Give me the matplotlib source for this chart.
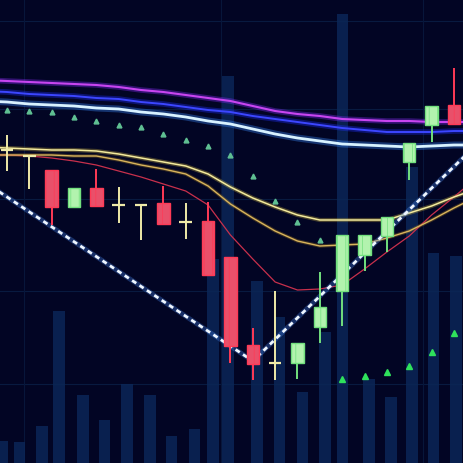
import numpy as np
import matplotlib
matplotlib.use("Agg")
import matplotlib.pyplot as plt

# candles (index 0..20)
opens  = [31.3, 30.7, 29.3, 25.6, 27.5, 25.8, 25.8, 26.0, 24.1, 24.2, 20.6,
          11.8, 10.0, 10.0, 13.6, 17.2, 20.8, 22.7, 30.1, 33.8, 35.8]
highs  = [32.8, 30.7, 29.3, 27.5, 29.4, 27.6, 25.8, 27.7, 26.0, 26.1, 20.6,
          13.5, 17.2, 12.0, 19.1, 22.8, 22.8, 24.6, 32.0, 35.7, 39.5]
lows   = [29.2, 27.4, 23.8, 25.6, 25.7, 24.0, 22.3, 23.9, 22.4, 18.8, 10.0,
          8.3, 8.3, 8.4, 12.0, 13.7, 19.2, 21.1, 28.3, 32.1, 33.9]
closes = [31.3, 30.7, 25.6, 27.5, 25.7, 25.8, 25.8, 23.9, 24.1, 18.8, 11.7,
          9.9, 10.0, 12.0, 15.6, 22.8, 22.8, 24.6, 32.0, 35.7, 33.9]

# volume bars (behind)
vol_x = [-0.22, 0.58, 1.57, 2.33, 3.4, 4.38, 5.37, 6.4, 7.38, 8.41, 9.22,
         9.89, 11.19, 12.21, 13.24, 14.23, 15.03, 16.2, 17.18, 18.12, 19.1, 20.09]
volume = [2.2, 2.1, 3.7, 15.2, 6.8, 4.3, 7.9, 6.8, 2.7, 3.4, 20.4,
          38.7, 18.2, 14.6, 7.1, 13.1, 44.9, 8.4, 6.6, 29.6, 21.0, 20.7]

# moving averages, sampled from index -1 to 21
ma_x = np.arange(-1, 22)
ma_magenta = [38.3, 38.2, 38.1, 38.0, 37.9, 37.8, 37.6, 37.3, 37.1, 36.8, 36.5, 36.2,
              35.7, 35.2, 34.9, 34.7, 34.4, 34.3, 34.2, 34.2, 34.1, 34.1, 34.1]
ma_blue = [37.2, 37.1, 36.9, 36.8, 36.7, 36.5, 36.4, 36.1, 35.9, 35.6, 35.3, 35.1,
           34.7, 34.4, 34.1, 33.8, 33.5, 33.3, 33.1, 33.1, 33.1, 33.2, 33.2]
ma_white = [36.2, 36.1, 35.9, 35.8, 35.7, 35.5, 35.4, 35.1, 34.9, 34.6, 34.2, 33.9,
            33.4, 32.9, 32.5, 32.2, 31.9, 31.8, 31.7, 31.6, 31.7, 31.8, 31.8]
ma_yellow = [31.6, 31.5, 31.4, 31.3, 31.3, 31.2, 30.9, 30.5, 30.1, 29.7, 28.9, 27.6,
             26.5, 25.6, 24.8, 24.3, 24.3, 24.3, 24.3, 25.0, 25.7, 26.6, 27.4]
ma_orange = [30.8, 30.8, 30.8, 30.8, 30.7, 30.7, 30.3, 29.8, 29.4, 28.9, 27.7, 25.9,
             24.5, 23.2, 22.2, 21.7, 21.8, 21.9, 22.5, 23.2, 24.3, 25.5, 26.6]
ma_red = [30.8, 30.8, 30.7, 30.5, 30.2, 29.8, 29.2, 28.6, 27.9, 27.2, 25.8, 22.8,
          20.4, 18.1, 17.3, 17.4, 17.8, 19.4, 21.1, 22.7, 24.8, 26.6, 28.5]

# parabolic SAR dots
sar = [35.3, 35.2, 35.1, 34.6, 34.2, 33.8, 33.6, 32.9, 32.3, 31.7, 30.8,
       28.7, 26.2, 24.1, 22.3, 8.4, 8.7, 9.1, 9.7, 11.1, 13.0]

# V-shaped trend line
trend_x = [-1, 11, 21]
trend_y = [28.1, 10.2, 31.8]

plt.rcParams["hatch.linewidth"] = 0.5

bg = "#020524"
fig = plt.figure(figsize=(4.64, 4.64), dpi=100, facecolor=bg)
ax = fig.add_axes([0, 0, 1, 1], facecolor=bg)
ax.set_xlim(-0.31, 20.45)
ax.set_ylim(0, 46.4)
ax.axis("off")

# faint grid
for gy in [44.2, 35.4, 26.4, 17.2, 7.9]:
    ax.axhline(gy, color="#081a40", lw=0.8, zorder=0)
for gx in [0.76, 9.6, 18.6]:
    ax.axvline(gx, color="#07163a", lw=0.8, zorder=0)

ax.bar(vol_x, volume, width=0.5, color="#0b2657", alpha=0.85, zorder=1)


def glow(y, core, halo, lw, glow_lw, z):
    ax.plot(ma_x, y, color=halo, lw=glow_lw, alpha=0.35, zorder=z,
            solid_capstyle="round")
    ax.plot(ma_x, y, color=core, lw=lw, zorder=z + 0.1)


glow(ma_magenta, "#c845f0", "#8a2cff", 1.5, 4, 2)
glow(ma_blue, "#3c46ff", "#2030ff", 1.4, 4, 2)
glow(ma_white, "#d8f2ff", "#3a8cff", 2.0, 5, 2)
glow(ma_yellow, "#f3ea9c", "#c8b040", 1.1, 3, 2)
glow(ma_orange, "#d8b45c", "#a07820", 1.0, 2.5, 2)
ax.plot(ma_x, ma_red, color="#c8304c", lw=0.9, zorder=2)

# trend line
ax.plot(trend_x, trend_y, color="#4a90ff", lw=3.5, alpha=0.3, zorder=3)
ax.plot(trend_x, trend_y, color="#eef6ff", lw=2, dashes=(1.8, 1.4), zorder=3.1)

# candles
x = np.arange(len(opens))
w = 0.56
for i in x:
    o, h, l, c = opens[i], highs[i], lows[i], closes[i]
    if abs(c - o) < 0.05:
        col = "#efeaa8"
        ax.vlines(i, l, h, color=col, lw=1.4, zorder=5)
        ax.hlines(o, i - w / 2, i + w / 2, color=col, lw=1.6, zorder=5)
        continue
    if c > o:
        face, edge = "#b2f3ae", "#72e07e"
    else:
        face, edge = "#e9506a", "#ff3a56"
    ax.vlines(i, l, h, color=edge, lw=1.4, zorder=5)
    ax.bar(i, abs(c - o), bottom=min(o, c), width=w, color=face,
           edgecolor=edge, lw=1, hatch="||", zorder=6)

ax.plot(x[:15], sar[:15], "^", color="#5fbf92", ms=3.5, zorder=4)
ax.plot(x[15:], sar[15:], "^", color="#2fe25c", ms=4, zorder=4)

fig.savefig("out.png", dpi=100, facecolor=bg)
